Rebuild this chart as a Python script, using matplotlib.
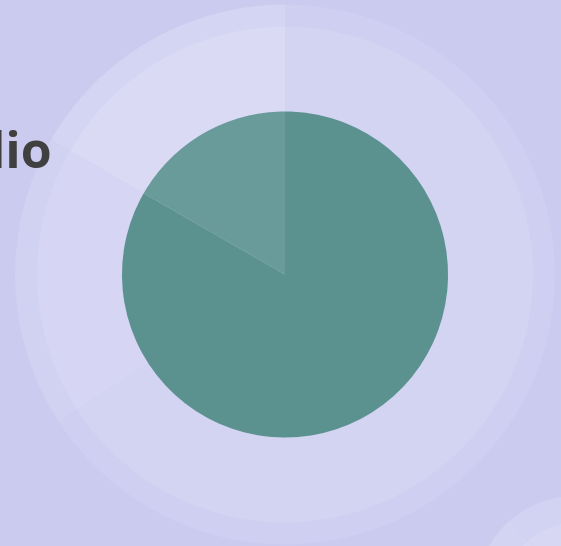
import matplotlib.pyplot as plt

# portfolio split (share of the whole, counter-clockwise from 12 o'clock)
segments = ["Cash", "Equities"]
shares = [16.7, 83.3]

# decorative backdrop rings use their own split
ring_parts = ["A", "B", "C"]
ring_shares = [16.7, 17.5, 65.8]

title = "Portfolio"

W, H = 561, 546
fig = plt.figure(figsize=(W / 100, H / 100), dpi=100)
fig.patch.set_facecolor("#cbcbef")
ax = fig.add_axes([0, 0, 1, 1])
ax.set_facecolor("#cbcbef")

cx, cy = 285, H - 274.5
nowedge = dict(linewidth=0, antialiased=True)

# backdrop: outer band and inner disc
ax.pie(ring_shares, radius=270, center=(cx, cy), startangle=90, counterclock=True,
       colors=["#d4d4f3", "#d1d1f2", "#cfcff1"], wedgeprops=nowedge, frame=True)
ax.pie(ring_shares, radius=248, center=(cx, cy), startangle=90, counterclock=True,
       colors=["#dadaf5", "#d6d6f4", "#d3d3f2"], wedgeprops=nowedge, frame=True)

# the actual portfolio pie
ax.pie(shares, radius=163, center=(cx, cy), startangle=90, counterclock=True,
       colors=["#689b9a", "#5b9290"], wedgeprops=nowedge, frame=True)

# neighbouring chart peeking in at the bottom right
ax.pie([36, 64], radius=99, center=(575, H - 595), startangle=131, counterclock=False,
       colors=["#d2d2f2", "#d3d3f2"], wedgeprops=nowedge, frame=True)
ax.pie([36, 64], radius=72, center=(575, H - 595), startangle=131, counterclock=False,
       colors=["#d7d7f4", "#d8d8f4"], wedgeprops=nowedge, frame=True)

ax.text(52, H - 168, title, ha="right", va="baseline", fontsize=36,
        fontweight="bold", family=["Open Sans", "DejaVu Sans"], color="#404040")

ax.set_xlim(0, W)
ax.set_ylim(0, H)
ax.set_aspect("auto")
ax.axis("off")

fig.savefig("out.png", dpi=100, facecolor=fig.get_facecolor())
